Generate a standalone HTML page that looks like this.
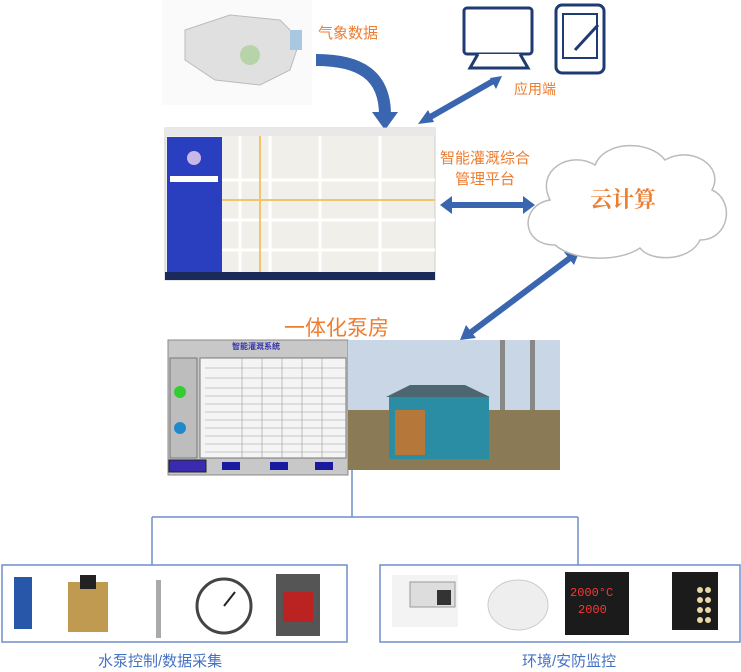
<!DOCTYPE html>
<html><head><meta charset="utf-8"><style>
body{margin:0;background:#fff;width:741px;height:672px;overflow:hidden;position:relative;font-family:"Liberation Sans","Noto Sans CJK SC",sans-serif}
.t{position:absolute;color:#ED7D31;white-space:nowrap}
.b{position:absolute;color:#4472C4;font-size:15px;white-space:nowrap}
</style></head><body>
<svg width="741" height="672" style="position:absolute;left:0;top:0">
<defs>
<marker id="ah" markerWidth="4" markerHeight="4" refX="2" refY="2" orient="auto"><path d="M0,0L4,2L0,4Z" fill="#3A65AF"/></marker>
</defs>
<!-- weather map -->
<rect x="162" y="0" width="150" height="105" fill="#fafafa"/>
<path d="M185,30 L230,15 L280,20 L300,40 L290,70 L260,85 L215,80 L185,60Z" fill="#e0e0e0" stroke="#bbb"/>
<circle cx="250" cy="55" r="10" fill="#b7d3a8"/>
<rect x="290" y="30" width="12" height="20" fill="#a8c8e0"/>
<!-- curved arrow -->
<path d="M316,60 C360,60 385,75 385,115" fill="none" stroke="#3A65AF" stroke-width="12"/>
<path d="M372,112 L398,112 L385,130Z" fill="#3A65AF"/>
<!-- computer -->
<rect x="464" y="8" width="68" height="46" rx="3" fill="#fff" stroke="#1F3B73" stroke-width="3"/>
<path d="M478,54 L470,68 L528,68 L520,54" fill="#fff" stroke="#1F3B73" stroke-width="3"/>
<rect x="556" y="5" width="48" height="68" rx="6" fill="#fff" stroke="#1F3B73" stroke-width="3"/>
<rect x="563" y="14" width="34" height="44" fill="#fff" stroke="#1F3B73" stroke-width="2"/>
<path d="M575,50 L598,25" stroke="#1F3B73" stroke-width="3"/>
<!-- double arrows -->
<line x1="425" y1="120" x2="495" y2="80" stroke="#3A65AF" stroke-width="6"/>
<path d="M418,124 L428,110 L434,122Z M502,76 L490,78 L496,89Z" fill="#3A65AF"/>
<line x1="450" y1="205" x2="525" y2="205" stroke="#3A65AF" stroke-width="6"/>
<path d="M440,205 L452,196 L452,214Z M535,205 L523,196 L523,214Z" fill="#3A65AF"/>
<line x1="470" y1="333" x2="570" y2="258" stroke="#3A65AF" stroke-width="6"/>
<path d="M460,340 L466,325 L476,338Z M580,250 L564,252 L574,265Z" fill="#3A65AF"/>
<!-- platform screenshot -->
<rect x="165" y="128" width="270" height="152" fill="#f1efe9" stroke="#ccc"/>
<rect x="165" y="128" width="270" height="8" fill="#e8e8e8"/>
<rect x="167" y="137" width="55" height="135" fill="#2a3fbf"/>
<circle cx="194" cy="158" r="7" fill="#c9b7e8"/>
<rect x="170" y="176" width="48" height="6" fill="#fff"/>
<path d="M240,136V272M270,136V272M320,136V272M380,136V272M222,180H435M222,220H435M222,250H435" stroke="#fff" stroke-width="3"/>
<path d="M260,136V272M222,200H435" stroke="#f2c46b" stroke-width="2"/>
<rect x="165" y="272" width="270" height="8" fill="#1a2a5a"/>
<!-- cloud -->
<path d="M555,245 C520,245 520,205 550,200 C535,170 570,150 595,165 C605,140 650,140 665,160 C690,145 725,165 712,190 C735,200 730,240 700,240 C690,262 650,262 640,248 C620,262 575,262 555,245Z" fill="#fff" stroke="#bbb" stroke-width="1.5"/>
<!-- panel -->
<rect x="168" y="340" width="180" height="135" fill="#c8c8c8" stroke="#888"/>
<rect x="170" y="358" width="27" height="100" fill="#bdbdbd" stroke="#777"/>
<circle cx="180" cy="392" r="6" fill="#3c3"/>
<circle cx="180" cy="428" r="6" fill="#28c"/>
<rect x="200" y="358" width="146" height="100" fill="#f4f4f4" stroke="#777"/>
<g stroke="#999" stroke-width="0.6">
<path d="M205,368H346M205,378H346M205,388H346M205,396H346M205,404H346M205,412H346M205,420H346M205,428H346M205,436H346M205,444H346M205,452H346"/>
<path d="M242,358V458M262,358V458M282,358V458M302,358V458M322,358V458"/>
</g>
<rect x="169" y="460" width="37" height="12" fill="#3a2ab0" stroke="#222"/>
<rect x="222" y="462" width="18" height="8" fill="#1a1aa0"/>
<rect x="270" y="462" width="18" height="8" fill="#1a1aa0"/>
<rect x="315" y="462" width="18" height="8" fill="#1a1aa0"/>
<!-- photo -->
<rect x="348" y="340" width="212" height="130" fill="#c9d6e6"/>
<rect x="348" y="410" width="212" height="60" fill="#8b7a56"/>
<path d="M386,397 L410,385 L465,385 L490,397Z" fill="#4d6770"/>
<rect x="389" y="397" width="100" height="62" fill="#2a8da3"/>
<rect x="395" y="410" width="30" height="45" fill="#b5783a"/>
<rect x="500" y="340" width="5" height="70" fill="#888"/>
<rect x="530" y="340" width="5" height="70" fill="#888"/>
<!-- tree -->
<path d="M352,470V517M152,517H578M152,517V565M578,517V565" fill="none" stroke="#6f8fc9" stroke-width="1.5"/>
<rect x="2" y="565" width="345" height="77" fill="#fff" stroke="#6f8fc9" stroke-width="1.5"/>
<rect x="380" y="565" width="360" height="77" fill="#fff" stroke="#6f8fc9" stroke-width="1.5"/>
<!-- devices left -->
<rect x="14" y="577" width="18" height="52" fill="#2856a8"/>
<rect x="68" y="582" width="40" height="50" fill="#c09a50"/>
<rect x="80" y="575" width="16" height="14" fill="#222"/>
<rect x="156" y="580" width="5" height="58" fill="#aaa"/>
<circle cx="224" cy="606" r="27" fill="#fff" stroke="#444" stroke-width="3"/>
<line x1="224" y1="606" x2="235" y2="592" stroke="#222" stroke-width="2"/>
<rect x="276" y="574" width="44" height="62" fill="#555"/>
<rect x="283" y="592" width="30" height="30" fill="#b22"/>
<!-- devices right -->
<rect x="392" y="575" width="66" height="52" fill="#f3f3f3"/>
<rect x="410" y="582" width="45" height="25" fill="#ddd" stroke="#999"/>
<rect x="437" y="590" width="14" height="15" fill="#333"/>
<ellipse cx="518" cy="605" rx="30" ry="25" fill="#eee" stroke="#ccc"/>
<rect x="565" y="572" width="64" height="63" fill="#1b1b1b"/>
<text x="570" y="596" fill="#f33" font-size="12" font-family="Liberation Mono">2000°C</text>
<text x="578" y="613" fill="#f33" font-size="12" font-family="Liberation Mono">2000</text>
<rect x="672" y="572" width="46" height="58" fill="#1b1b1b"/>
<g fill="#e8d8a8"><circle cx="700" cy="590" r="3"/><circle cx="708" cy="590" r="3"/><circle cx="700" cy="600" r="3"/><circle cx="708" cy="600" r="3"/><circle cx="700" cy="610" r="3"/><circle cx="708" cy="610" r="3"/><circle cx="700" cy="620" r="3"/><circle cx="708" cy="620" r="3"/></g>
</svg>
<div class="t" style="left:318px;top:22px;font-size:15px">气象数据</div>
<div class="t" style="left:514px;top:79px;font-size:14px">应用端</div>
<div class="t" style="left:440px;top:148px;font-size:15px;line-height:21px;text-align:center">智能灌溉综合<br>管理平台</div>
<div class="t" style="left:590px;top:183px;font-size:22px;font-family:'Noto Serif CJK SC',serif;font-weight:bold">云计算</div>
<div class="t" style="left:284px;top:312px;font-size:21px">一体化泵房</div>
<div style="position:absolute;left:232px;top:341px;font-size:8px;color:#3333aa;font-weight:bold">智能灌溉系统</div>
<div class="b" style="left:98px;top:650px">水泵控制/数据采集</div>
<div class="b" style="left:522px;top:650px">环境/安防监控</div>
</body></html>
